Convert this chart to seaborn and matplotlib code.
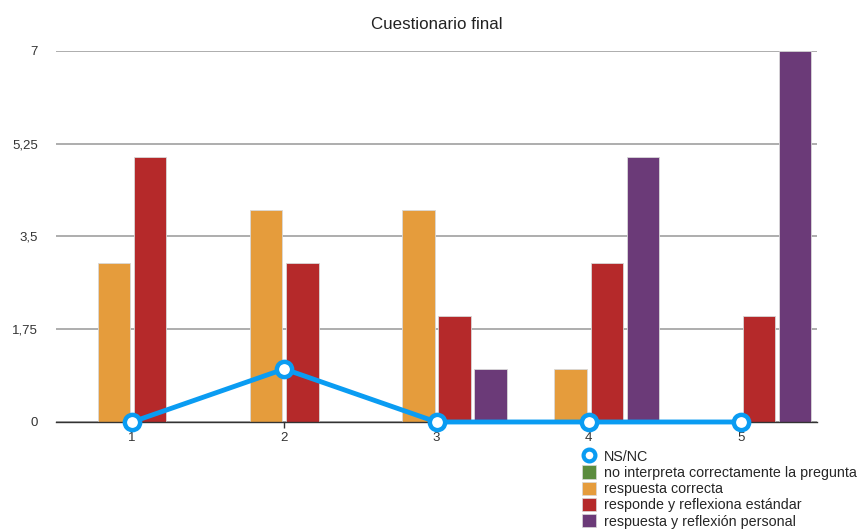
import matplotlib
matplotlib.use("Agg")
import matplotlib.pyplot as plt
import matplotlib.patches as mpatches
from matplotlib.lines import Line2D
import seaborn as sns
import pandas as pd

# data
preguntas = ["1", "2", "3", "4", "5"]
ns_nc = [0, 1, 0, 0, 0]
no_interpreta = [0, 0, 0, 0, 0]
resp_correcta = [3, 4, 4, 1, 0]
resp_estandar = [5, 3, 2, 3, 2]
resp_personal = [0, 0, 1, 5, 7]

series = ["no interpreta correctamente la pregunta", "respuesta correcta",
          "responde y reflexiona estándar", "respuesta y reflexión personal"]
colores = ["#5b8c3e", "#e59c3c", "#b5292a", "#6b3a78"]
azul = "#0a9cf2"

rows = []
for nombre, vals in zip(series, [no_interpreta, resp_correcta, resp_estandar, resp_personal]):
    for p, v in zip(preguntas, vals):
        rows.append({"pregunta": p, "serie": nombre, "valor": v})
df = pd.DataFrame(rows)

sns.set_style("white")
plt.rcParams["font.family"] = ["Liberation Sans", "DejaVu Sans"]

fig = plt.figure(figsize=(8.63, 5.31), dpi=100)
ax = fig.add_axes([0.0649, 0.2053, 0.8818, 0.6987])

sns.barplot(data=df, x="pregunta", y="valor", hue="serie", hue_order=series,
            palette=colores, saturation=1, width=0.95, gap=0.1,
            edgecolor="#d8d8d8", linewidth=0.6,
            legend=False, ax=ax, errorbar=None)

ax.plot(range(len(preguntas)), ns_nc, color=azul, lw=3.5, marker="o", ms=11,
        mfc="white", mec=azul, mew=3.2, zorder=5, clip_on=False)

ax.set_xlim(-0.5, 4.5)
ax.set_ylim(0, 7)
ax.set_yticks([0, 1.75, 3.5, 5.25, 7])
ax.set_yticklabels(["0", "1,75", "3,5", "5,25", "7"])
ax.yaxis.grid(True, color="#a0a0a0", lw=1.2)
ax.set_axisbelow(True)
for s in ["left", "right", "top"]:
    ax.spines[s].set_visible(False)
ax.spines["bottom"].set_color("#333333")
ax.spines["bottom"].set_linewidth(1)
ax.tick_params(axis="y", length=0, pad=13, labelsize=9.5, labelcolor="#333333")
ax.tick_params(axis="x", length=4, width=1, color="#333333", pad=3,
               labelsize=9.5, labelcolor="#333333", bottom=True)
ax.set_xlabel("")
ax.set_ylabel("")
ax.set_title("Cuestionario final", fontsize=12.2, color="#222222", pad=16)

handles = [Line2D([], [], color=azul, marker="o", ls="none", ms=8.5, mfc="white", mew=3)]
handles += [mpatches.Patch(facecolor=c, edgecolor="#d8d8d8", lw=0.5) for c in colores]
labels = ["NS/NC"] + series
fig.legend(handles, labels, loc="upper left", bbox_to_anchor=(0.6744, 0.154),
           frameon=False, fontsize=10.3, handlelength=0.95, handleheight=1.05,
           handletextpad=0.6, labelspacing=0.12, borderpad=0, borderaxespad=0)

fig.savefig("out.png", dpi=100)
